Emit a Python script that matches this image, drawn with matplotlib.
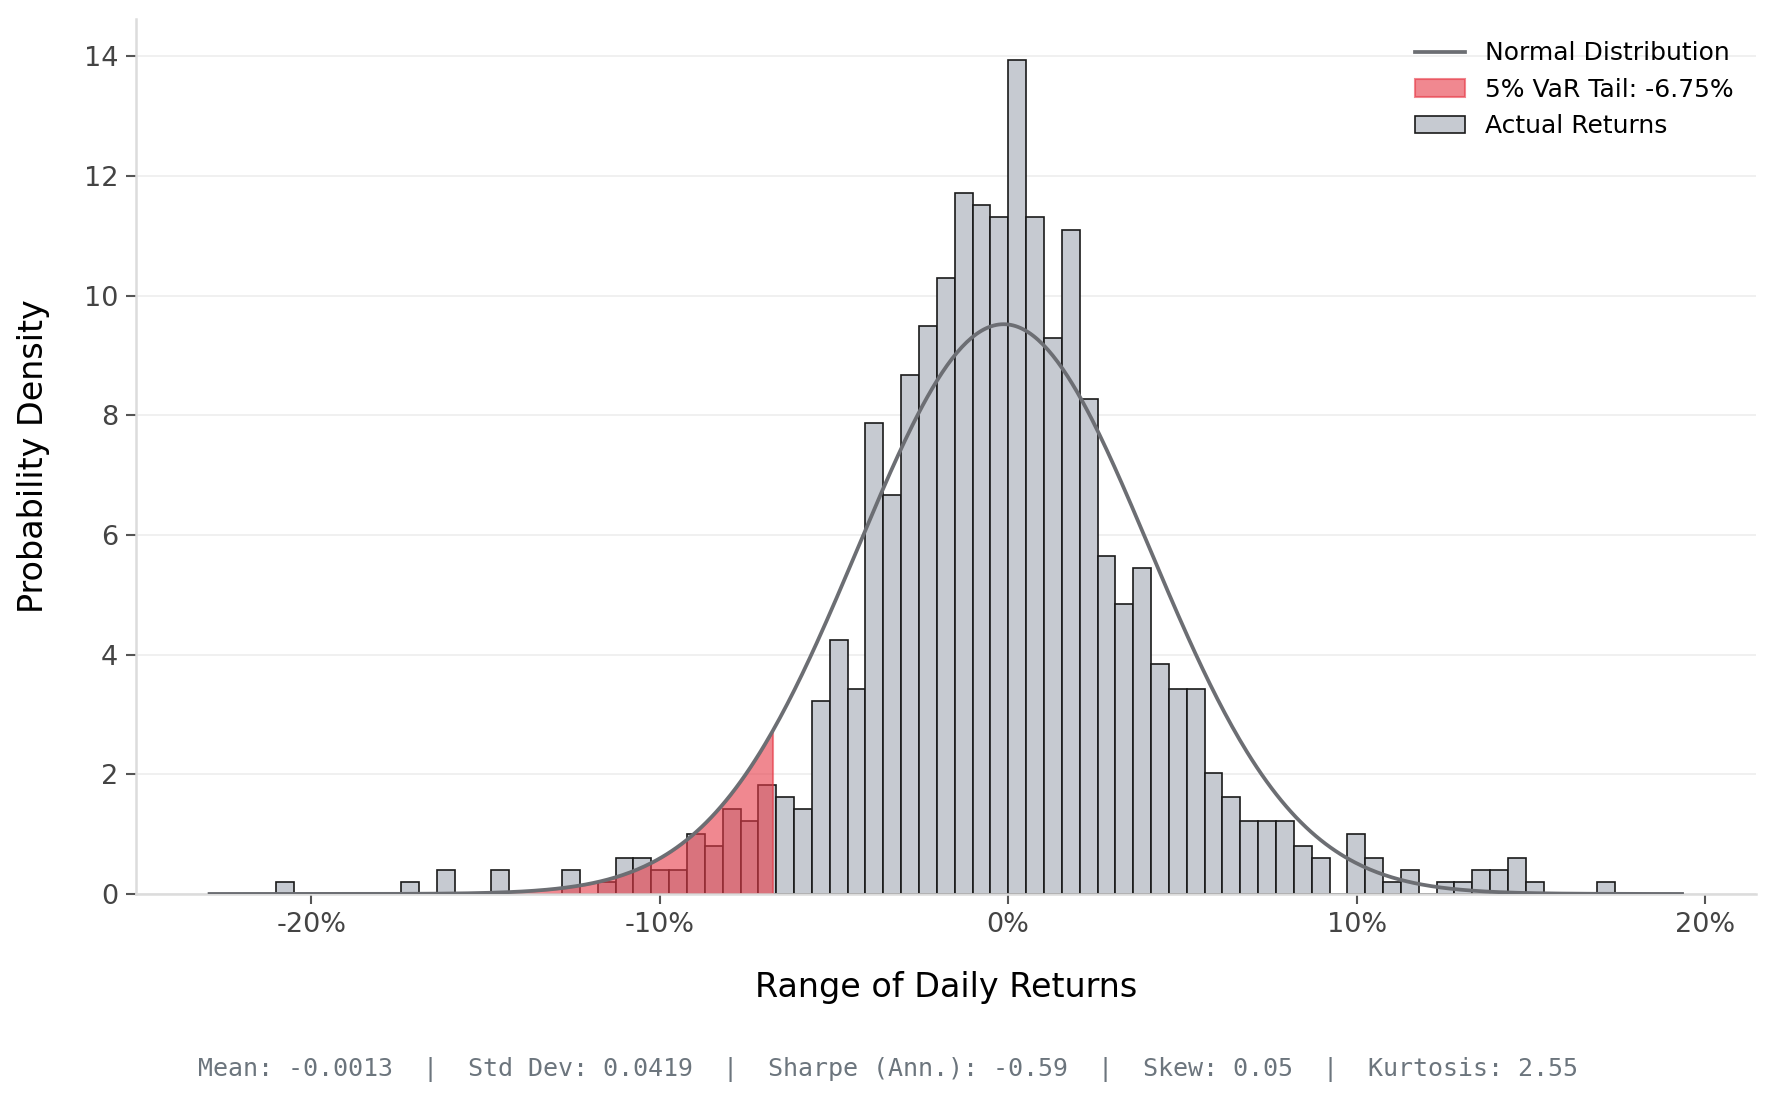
import numpy as np
import matplotlib
matplotlib.use("Agg")
import matplotlib.pyplot as plt
from matplotlib.ticker import FuncFormatter, MultipleLocator

plt.rcParams['font.family'] = ['DejaVu Sans']
plt.rcParams['axes.unicode_minus'] = False

# histogram of daily returns: 75 equal bins between the min and max return
ret_min = -0.2100
ret_max = 0.1742
bin_counts = [
    1, 0, 0, 0, 0, 0, 0, 1, 0, 2,
    0, 0, 2, 0, 0, 0, 2, 0, 1, 3,
    3, 2, 2, 5, 4, 7, 6, 9, 8, 7,
    16, 21, 17, 39, 33, 43, 47, 51, 58, 57,
    56, 69, 56, 46, 55, 41, 28, 24, 27, 19,
    17, 17, 10, 8, 6, 6, 6, 4, 3, 0,
    5, 3, 1, 2, 0, 1, 1, 2, 2, 3,
    1, 0, 0, 0, 1,
]

# summary stats
mu = -0.0013
sigma = 0.0419
var_5 = -0.0675
sharpe = -0.59
skew = 0.05
kurt = 2.55

edges = np.linspace(ret_min, ret_max, len(bin_counts) + 1)
centers = (edges[:-1] + edges[1:]) / 2

fig = plt.figure(figsize=(1777 / 150, 1105 / 150), dpi=150)
ax = fig.add_axes([0.0765, 0.191, 0.9115, 0.792])

ax.hist(centers, bins=edges, weights=bin_counts, density=True,
        color='#c6cad1', edgecolor='#1a1a1a', linewidth=0.8,
        label='Actual Returns', zorder=1)

# fitted normal over the current x range
x_lo, x_hi = ax.get_xlim()
x = np.linspace(x_lo, x_hi, 600)
pdf = np.exp(-0.5 * ((x - mu) / sigma) ** 2) / (sigma * np.sqrt(2 * np.pi))

tail = x <= var_5
ax.fill_between(x[tail], pdf[tail], color='#e63946', alpha=0.6,
                label=f'5% VaR Tail: {var_5:.2%}', zorder=1.5)
ax.plot(x, pdf, color='#6c6e73', linewidth=1.8,
        label='Normal Distribution', zorder=3)

ax.xaxis.set_major_locator(MultipleLocator(0.1))
ax.xaxis.set_major_formatter(FuncFormatter(lambda v, p: f'{v:.0%}'))

for side in ['top', 'right']:
    ax.spines[side].set_visible(False)
for side in ['left', 'bottom']:
    ax.spines[side].set_color('#dcdcdc')
    ax.spines[side].set_linewidth(1.2)

ax.set_axisbelow(True)
ax.yaxis.grid(True, color='#ededed', linewidth=0.8)
ax.tick_params(axis='both', labelsize=13, colors='#555555',
               labelcolor='#444444', length=5, width=1)

ax.set_xlabel('Range of Daily Returns', fontsize=16, labelpad=16)
ax.set_ylabel('Probability Density', fontsize=16, labelpad=16)

h, l = ax.get_legend_handles_labels()
order = ['Normal Distribution', f'5% VaR Tail: {var_5:.2%}', 'Actual Returns']
hd = dict(zip(l, h))
ax.legend([hd[k] for k in order], order, loc='upper right',
          frameon=False, fontsize=12)

stats = (f'Mean: {mu:.4f}  |  Std Dev: {sigma:.4f}  |  '
         f'Sharpe (Ann.): {sharpe:.2f}  |  Skew: {skew:.2f}  |  '
         f'Kurtosis: {kurt:.2f}')
fig.text(0.5, 0.032, stats, ha='center', va='center', fontsize=12,
         family='DejaVu Sans Mono', color='#6c757d')

fig.savefig('out.png', dpi=150)
